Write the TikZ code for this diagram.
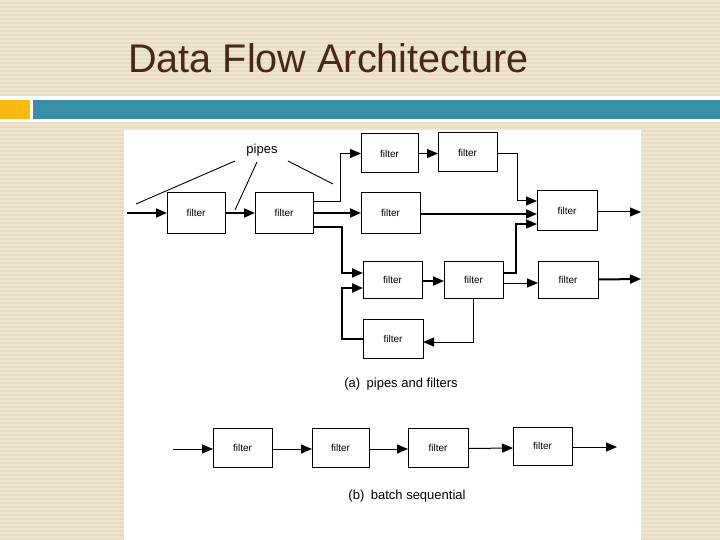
\documentclass[tikz,border=0pt]{standalone}
\usepackage{fontspec}
\setmainfont{Liberation Sans}
\usetikzlibrary{arrows.meta}
\definecolor{bgbase}{RGB}{232,221,194}
\definecolor{bgstripe}{RGB}{238,229,207}
\definecolor{titlebrown}{RGB}{74,40,25}
\definecolor{barorange}{RGB}{253,185,19}
\definecolor{barteal}{RGB}{58,143,168}
\tikzset{
  fbox/.style={draw=black, line width=1pt, fill=white, inner sep=0pt, outer sep=0pt,
    font=\fontsize{10}{12}\selectfont},
  tip/.tip={Triangle[length=11pt,width=9pt]},
  thinarr/.style={line width=1pt, -tip},
  thickarr/.style={line width=2pt, -tip},
  leader/.style={line width=0.9pt},
  caption/.style={font=\fontsize{13}{15}\selectfont, inner sep=0pt},
}
\begin{document}
\begin{tikzpicture}[x=1pt,y=-1pt]
\useasboundingbox (0,0) rectangle (720,540);
% background
\fill[bgbase] (0,0) rectangle (720,540);
\foreach \yy in {0,4,...,536} {\fill[bgstripe] (0,\yy) rectangle (720,\yy+2);}
\fill[white] (0,96.5) rectangle (720,122);
\fill[barorange] (0,100) rectangle (30,119);
\fill[barteal] (33,100) rectangle (720,119);
\node[anchor=base west, inner sep=0pt, text=titlebrown, font=\fontsize{40}{44}\selectfont, xscale=0.99] (title) at (128,73) {Data Flow Architecture};
% panel
\fill[white] (124,130) rectangle (641,540);

% (a) filters
\node[fbox, minimum width=58pt, minimum height=40pt] (f1) at (196,213) {filter};
\node[fbox, minimum width=58pt, minimum height=40pt] (f2) at (284,213) {filter};
\node[fbox, minimum width=57pt, minimum height=39pt] (A) at (389.5,153.5) {filter};
\node[fbox, minimum width=59pt, minimum height=39pt] (B) at (467.5,152.5) {filter};
\node[fbox, minimum width=59pt, minimum height=40pt] (D) at (390.5,213) {filter};
\node[fbox, minimum width=60pt, minimum height=40pt] (C) at (567,211) {filter};
\node[fbox, minimum width=59pt, minimum height=37pt] (E) at (392.5,279.5) {filter};
\node[fbox, minimum width=59pt, minimum height=37pt] (F) at (473.5,279.5) {filter};
\node[fbox, minimum width=60pt, minimum height=37pt] (G) at (568,279.5) {filter};
\node[fbox, minimum width=60pt, minimum height=39pt] (H) at (393,338.5) {filter};

\node[font=\fontsize{13}{15}\selectfont, inner sep=0pt] (pipes) at (262,150) {pipes};
\coordinate (inA) at (127,213);
\coordinate (outC) at (641,212);
\coordinate (outG) at (641,279);

% pipe leaders
\coordinate (p1a) at (235,161); \coordinate (p1b) at (136,204);
\coordinate (p2a) at (257,162); \coordinate (p2b) at (235,210);
\coordinate (p3a) at (288,161); \coordinate (p3b) at (333,184);
\draw[leader] (p1a) -- (p1b);
\draw[leader] (p2a) -- (p2b);
\draw[leader] (p3a) -- (p3b);

% connectors
\draw[thickarr] (inA) -- (f1.west);
\draw[thickarr] (f1.east) -- (f2.west);
\draw[thinarr] ([yshift=11pt]f2.east) -- (340,202) |- (A.west);
\draw[thickarr] (f2.east) -- (D.west);
\draw[thickarr] ([yshift=-14pt]f2.east) -- (342,227) |- ([yshift=6.5pt]E.west);
\draw[thickarr] (H.west) -- (342,338.5) |- ([yshift=-8.5pt]E.west);
\draw[thinarr] (A.east) -- (B.west |- A.east);
\draw[thinarr] ([yshift=-1.5pt]B.east) -- (517,154) |- ([yshift=10pt]C.west);
\draw[thickarr] ([yshift=-1pt]D.east) -- ([yshift=-3pt]C.west);
\draw[line width=1.5pt, -tip] ([yshift=6.5pt]F.east) -- (516,273) |- ([yshift=-13pt]C.west);
\draw[thinarr] ([yshift=-1pt]C.east) -- (outC);
\draw[thickarr] ([yshift=-1.5pt]E.east) -- ([yshift=-1.5pt]F.west);
\draw[thinarr] ([yshift=-3.5pt]F.east) -- ([yshift=-3.5pt]G.west);
\draw[thinarr] (473,298) -- (473,342) -- ([yshift=-3.5pt]H.east);
\draw[thickarr] (G.east) -- (outG);

\node[caption] (capa) at (401,384) {(a)\enspace pipes and filters};

% (b) batch sequential
\node[fbox, minimum width=59pt, minimum height=39pt] (b1) at (242.5,447.5) {filter};
\node[fbox, minimum width=57pt, minimum height=39pt] (b2) at (340.5,447.5) {filter};
\node[fbox, minimum width=60pt, minimum height=39pt] (b3) at (438,447.5) {filter};
\node[fbox, minimum width=59pt, minimum height=38pt] (b4) at (542.5,446) {filter};
\coordinate (inB) at (173,449);
\coordinate (outB) at (617,447);
\draw[thinarr] (inB) -- ([yshift=-1.5pt]b1.west);
\draw[thinarr] ([yshift=-1.5pt]b1.east) -- ([yshift=-1.5pt]b2.west);
\draw[thinarr] ([yshift=-1.5pt]b2.east) -- ([yshift=-1.5pt]b3.west);
\draw[thinarr] ([yshift=-1pt]b3.east) -- ([yshift=-2pt]b4.west);
\draw[thinarr] ([yshift=-1pt]b4.east) -- (outB);

\node[caption] (capb) at (407,496) {(b)\enspace batch sequential};
\end{tikzpicture}
\end{document}
